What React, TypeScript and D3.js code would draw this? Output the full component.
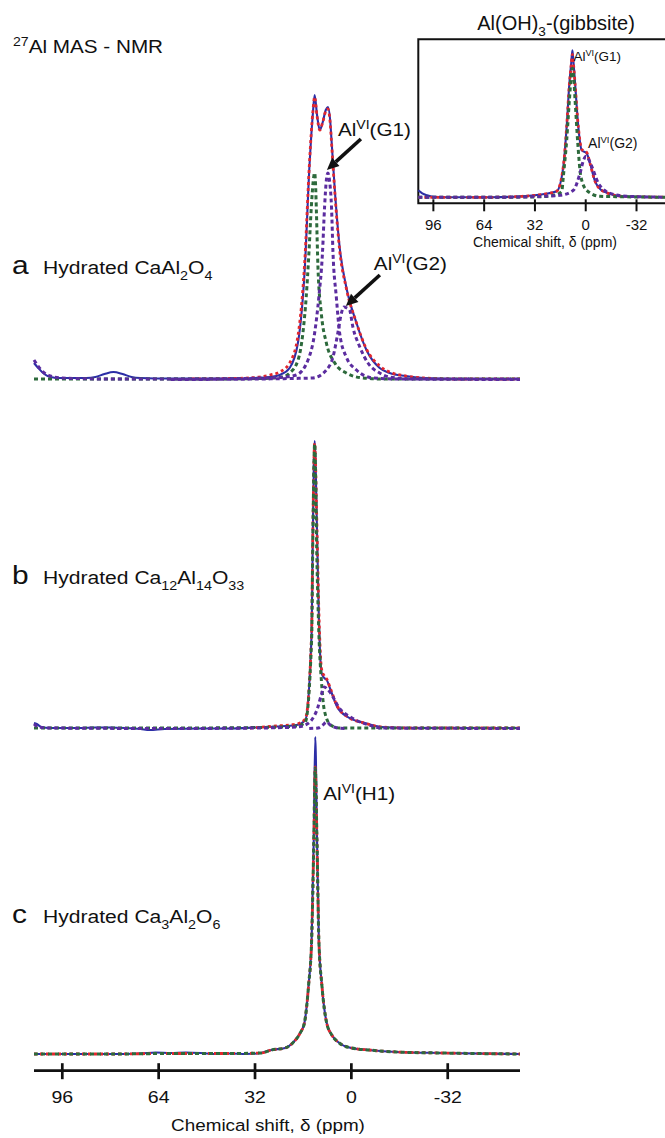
import React from 'react';
import * as d3 from 'd3';

type P = [number, number];

// ---------- data (ppm, intensity a.u.) ----------
const xTickValues: number[] = [96, 64, 32, 0, -32];
const axisTitle = 'Chemical shift, δ (ppm)';

// Panel a : Hydrated CaAl2O4
const aExperimental: P[] = [
  [105.4, 17], [104, 12], [102, 6], [100, 3], [97, 2], [92, 2], [88, 2], [85, 3], [82, 6], [79, 8], [76, 6],
  [73, 3], [70, 2], [60, 1.5], [50, 1.5], [40, 1.5], [32, 2], [27, 3], [23.8, 5], [20.5, 12], [17.7, 38],
  [15.5, 110], [13.9, 215], [12.8, 266], [12.2, 285], [11.4, 265], [10.5, 250], [9.5, 258], [8.5, 270],
  [7.8, 273], [7.0, 258], [6.6, 240], [5.5, 190], [3.9, 133], [1.7, 93], [-1.7, 57], [-5, 30], [-9.4, 12],
  [-12.7, 7], [-18, 4], [-24, 2], [-35, 1], [-45, 1], [-56, 1],
];
const aFit: P[] = [
  [53, 1], [40, 1.5], [32, 2.5], [27, 5], [23.8, 8], [20.5, 17], [17.7, 45], [15.5, 118], [13.9, 218],
  [12.8, 268], [12.2, 283], [11.4, 264], [10.5, 250], [9.5, 258], [8.5, 269], [7.8, 271], [7.0, 256],
  [6.6, 238], [5.5, 188], [3.9, 130], [1.7, 92], [-1.7, 57], [-5, 31], [-9.4, 14], [-12.7, 8], [-18, 4],
  [-24, 2], [-35, 1], [-56, 1],
];
const aGreen: P[] = [
  [105.4, 1], [80, 1], [50, 1], [30, 1.5], [23, 3], [20.5, 7], [17.7, 20], [16.1, 47], [15.0, 83],
  [14.1, 127], [13.3, 173], [12.7, 198], [12.2, 207], [11.9, 196], [11.6, 167], [11.1, 113], [10.0, 67],
  [8.3, 37], [5.5, 17], [1.7, 7], [-3.9, 2], [-10, 1], [-56, 1],
];
const aG1: P[] = [
  [105.4, 20], [103, 10], [100, 4], [96, 2], [80, 1], [50, 1], [30, 2], [22, 3], [18.3, 5], [14.4, 20],
  [12.2, 47], [10.8, 83], [9.6, 127], [8.9, 173], [8.3, 200], [7.8, 207], [7.2, 198], [6.6, 173],
  [6.1, 127], [5.0, 83], [3.9, 47], [1.7, 23], [-1.7, 10], [-7.2, 2], [-15, 1], [-56, 1],
];
const aG2: P[] = [
  [60, 0.5], [30, 1], [20, 1.5], [12.8, 2], [8.3, 10], [6.1, 23], [4.5, 47], [3.3, 67], [2.5, 73],
  [1.5, 72], [0.6, 70], [-0.5, 53], [-2.8, 33], [-5.5, 17], [-9.4, 7], [-12.7, 3], [-20, 1], [-56, 0.5],
];

// Panel b : Hydrated Ca12Al14O33
const bExperimental: P[] = [
  [105.4, 6], [104.5, 5], [103, 2], [100, 1], [90, 1], [85, 1.5], [80, 1.5], [75, 1], [70, 0], [67, -1],
  [62, 0], [50, 0.5], [40, 0.5], [32, 1.5], [25, 2.5], [18.2, 4], [15.3, 9], [13.2, 96], [12.8, 196],
  [12.2, 288], [11.4, 196], [10.8, 112], [9.9, 56], [9.0, 51], [8.2, 49], [6.9, 39], [4.7, 22], [1.2, 12],
  [-4.4, 6], [-10, 2], [-20, 1], [-56, 1],
];
const bFit: P[] = [
  [33.7, 1], [25, 3], [18.2, 5], [15.3, 10], [13.2, 96], [12.8, 196], [12.2, 286], [11.4, 198], [10.8, 118],
  [9.9, 60], [9.0, 53], [8.2, 50], [6.9, 40], [4.7, 23], [1.2, 12], [-4.4, 6], [-10, 2], [-20, 1], [-56, 1],
];
const bGreen: P[] = [
  [105.4, 1], [60, 1], [30, 1.5], [18, 3], [15.3, 7], [13.2, 90], [12.8, 190], [12.2, 285], [11.4, 162],
  [10.8, 96], [9.9, 46], [9.0, 19], [6.9, 4], [4.0, 1], [-56, 1],
];
const bP1: P[] = [
  [105.4, 5], [104, 2], [100, 1], [60, 0.5], [30, 1], [18, 2], [15.3, 4], [13.2, 9], [11.1, 22], [10, 34],
  [9.0, 42], [8.0, 40], [6.9, 36], [4.0, 21], [-0.2, 11], [-5.8, 4], [-10, 1], [-56, 0.5],
];
const bP2: P[] = [
  [14, 0.5], [11, 1], [9.5, 4], [8.2, 7], [7, 4], [4.5, 1], [2, 0.5],
];

// Panel c : Hydrated Ca3Al2O6
const cExperimental: P[] = [
  [105.4, 1], [95, 1], [80, 1], [70, 1.5], [65, 2.5], [60, 2], [55, 2.5], [50, 2], [45, 1], [40, 1.5],
  [35, 1], [30, 2], [26.6, 5], [22, 7], [19.5, 12], [17, 22], [15.6, 32], [14.2, 70], [13.2, 115],
  [12.5, 215], [12.0, 318], [11.4, 215], [10.8, 115], [9.8, 70], [8.2, 32], [6.5, 20], [4.0, 12], [0, 7],
  [-5.8, 5], [-15, 3], [-30, 2], [-56, 1],
];
const cFit: P[] = [
  [105.4, 1], [80, 1], [60, 1.5], [40, 1.5], [30, 2], [26.6, 5], [22, 7], [19.5, 12], [17, 22], [15.6, 32],
  [14.2, 70], [13.2, 115], [12.5, 210], [12.0, 288], [11.4, 210], [10.8, 115], [9.8, 70], [8.2, 32],
  [6.5, 20], [4.0, 12], [0, 7], [-5.8, 5], [-15, 3], [-30, 2], [-56, 1],
];
const cGreen: P[] = [
  [105.4, 1], [80, 1], [60, 1.5], [40, 1.5], [30, 2], [26.6, 5], [22, 7], [19.5, 12], [17, 22], [15.6, 32],
  [14.2, 70], [13.2, 115], [12.5, 210], [12.0, 287], [11.4, 210], [10.8, 115], [9.8, 70], [8.2, 32],
  [6.5, 20], [4.0, 12], [0, 7], [-5.8, 5], [-15, 3], [-30, 2], [-56, 1],
];

// Inset : Al(OH)3 gibbsite
const iExperimental: P[] = [
  [105.5, 8], [103, 5], [100, 3], [96, 1.5], [80, 1], [60, 1], [40, 2], [27, 4], [18.3, 7], [14.1, 32],
  [12.0, 72], [10.3, 115], [9.1, 136], [8.4, 148], [7.7, 136], [6.7, 115], [4.7, 72], [2.5, 48],
  [-0.6, 45], [-2.7, 35], [-5.9, 17], [-11.1, 7], [-23.7, 2], [-56, 1],
];
const iFit: P[] = [
  [105.5, 1], [80, 1], [60, 1], [40, 2], [27, 4], [18.3, 7], [14.1, 32], [12.0, 72], [10.3, 114],
  [9.1, 134], [8.4, 144], [7.7, 134], [6.7, 114], [4.7, 72], [2.5, 49], [-0.6, 46], [-2.7, 35],
  [-5.9, 17], [-11.1, 7], [-23.7, 2], [-56, 1],
];
const iG1: P[] = [
  [105.5, 1], [60, 1], [30, 1.5], [20, 3], [15.1, 7], [14.1, 22], [12.0, 58], [10.3, 98], [9.2, 121],
  [8.4, 130], [7.6, 121], [6.7, 98], [5.0, 55], [3.1, 22], [-0.6, 8], [-9, 2], [-56, 1],
];
const iG2: P[] = [
  [105.5, 1], [60, 1], [37, 1.5], [16.2, 3], [7.8, 8], [3.6, 25], [1.2, 39], [-0.2, 42], [-1.8, 39],
  [-3.8, 32], [-8.0, 15], [-15.3, 5], [-25.8, 2], [-56, 1],
];

// ---------- layout ----------
const W = 665;
const H = 1138;
const FONT = "'Liberation Sans', Arial, Helvetica, sans-serif";
const SX = 1.15; // horizontal stretch of the figure's lettering

const xMain = d3.scaleLinear().domain([105.4, -56]).range([34, 520]);
const xInset = d3.scaleLinear().domain([105.5, -56]).range([418.3, 674.6]);
const yPanel = (base: number) => d3.scaleLinear().domain([0, 300]).range([base, base - 300]);

const yA = yPanel(380);
const yB = yPanel(729);
const yC = yPanel(1055);
const yI = yPanel(198.3);

const COL = {
  blue: '#2c2ea6',
  red: '#e2272d',
  green: '#2d6a3c',
  purple: '#5b2c9f',
};

type Style = { stroke: string; width: number; dash?: string };
const EXP: Style = { stroke: COL.blue, width: 2.1 };
const FIT: Style = { stroke: COL.red, width: 2.8, dash: '3,3' };
const GRN: Style = { stroke: COL.green, width: 3, dash: '4,3' };
const PUR: Style = { stroke: COL.purple, width: 3, dash: '4,3' };

function Curve({ data, x, y, s }: { data: P[]; x: any; y: any; s: Style }) {
  const gen = d3.line<P>().x((d) => x(d[0])).y((d) => y(d[1])).curve(d3.curveMonotoneX);
  return (
    <path d={gen(data) || ''} fill="none" stroke={s.stroke} strokeWidth={s.width}
      strokeDasharray={s.dash} strokeLinejoin="round" />
  );
}

type Part = [string, ('n' | 'sub' | 'sup')?];
function Rich({ x, y, size, parts, anchor, sx = SX }: {
  x: number; y: number; size: number; parts: Part[]; anchor?: string; sx?: number;
}) {
  let cur = 0;
  const small = size * 0.68;
  return (
    <text x={0} y={0} transform={`translate(${x},${y}) scale(${sx},1)`} fontSize={size}
      fontFamily={FONT} textAnchor={anchor || 'start'} fill="#111">
      {parts.map(([t, k], i) => {
        const target = k === 'sub' ? size * 0.3 : k === 'sup' ? -size * 0.38 : 0;
        const dy = target - cur;
        cur = target;
        return (
          <tspan key={i} dy={dy} fontSize={k ? small : size}>{t}</tspan>
        );
      })}
    </text>
  );
}

function Arrow({ tx, ty, dx, dy }: { tx: number; ty: number; dx: number; dy: number }) {
  const len = Math.hypot(dx, dy);
  const ux = dx / len;
  const uy = dy / len;
  const hl = 12;
  const hw = 5.5;
  const bx = tx + ux * hl;
  const by = ty + uy * hl;
  const head = `M${tx},${ty} L${bx - uy * hw},${by + ux * hw} L${bx + uy * hw},${by - ux * hw} Z`;
  return (
    <g>
      <line x1={bx} y1={by} x2={tx + dx} y2={ty + dy} stroke="#111" strokeWidth={3.6} />
      <path d={head} fill="#111" />
    </g>
  );
}

export default function App() {
  const axisY = 1070.7;
  const insetAxisY = 203.3;
  return (
    <svg width={W} height={H} style={{ position: 'absolute', left: 0, top: 0, background: '#fff' }}>
      <rect x={0} y={0} width={W} height={H} fill="#fff" />

      {/* title */}
      <Rich x={13} y={53} size={18} parts={[['27', 'sup'], ['Al MAS - NMR']]} />

      {/* inset */}
      <g>
        <path d={`M${xInset.range()[1]},39.3 H418.3 V${insetAxisY} H${xInset.range()[1]}`} fill="none" stroke="#111" strokeWidth={2} />
        {xTickValues.map((v) => (
          <g key={v}>
            <line x1={xInset(v)} x2={xInset(v)} y1={insetAxisY - 4} y2={insetAxisY + 8} stroke="#111" strokeWidth={2} />
            <text x={xInset(v)} y={230} fontSize={15} fontFamily={FONT} textAnchor="middle" fill="#111">{v}</text>
          </g>
        ))}
        <text x={545} y={247} fontSize={14} fontFamily={FONT} textAnchor="middle" fill="#111">{axisTitle}</text>
        <Rich x={556} y={30} size={20} sx={1} anchor="middle" parts={[['Al(OH)'], ['3', 'sub'], ['-(gibbsite)']]} />
        <Curve data={iExperimental} x={xInset} y={yI} s={EXP} />
        <Curve data={iFit} x={xInset} y={yI} s={FIT} />
        <Curve data={iG1} x={xInset} y={yI} s={GRN} />
        <Curve data={iG2} x={xInset} y={yI} s={PUR} />
        <Rich x={xInset(8.4) + 1} y={yI(148) + 11} size={13.5} sx={1} parts={[['Al'], ['VI', 'sup'], ['(G1)']]} />
        <Rich x={xInset(-0.2) + 2} y={yI(42) - 8} size={14} sx={1} parts={[['Al'], ['VI', 'sup'], ['(G2)']]} />
      </g>

      {/* panel a */}
      <g>
        <Rich x={12} y={274} size={26} parts={[['a']]} />
        <Rich x={43} y={274} size={18.5} sx={1.14} parts={[['Hydrated CaAl'], ['2', 'sub'], ['O'], ['4', 'sub']]} />
        <Curve data={aExperimental} x={xMain} y={yA} s={EXP} />
        <Curve data={aFit} x={xMain} y={yA} s={FIT} />
        <Curve data={aGreen} x={xMain} y={yA} s={GRN} />
        <Curve data={aG1} x={xMain} y={yA} s={PUR} />
        <Curve data={aG2} x={xMain} y={yA} s={PUR} />
        <Arrow tx={xMain(7.8) - 1} ty={yA(207) - 3} dx={34} dy={-31} />
        <Arrow tx={xMain(2.5) + 2} ty={yA(73) - 1} dx={34} dy={-31} />
        <Rich x={xMain(7.8) + 10} y={yA(207) - 37} size={18} parts={[['Al'], ['VI', 'sup'], ['(G1)']]} />
        <Rich x={xMain(2.5) + 30} y={yA(73) - 37} size={18} parts={[['Al'], ['VI', 'sup'], ['(G2)']]} />
      </g>

      {/* panel b */}
      <g>
        <Rich x={12} y={584} size={26} parts={[['b']]} />
        <Rich x={43} y={584} size={18.5} sx={1.14} parts={[['Hydrated Ca'], ['12', 'sub'], ['Al'], ['14', 'sub'], ['O'], ['33', 'sub']]} />
        <Curve data={bExperimental} x={xMain} y={yB} s={EXP} />
        <Curve data={bFit} x={xMain} y={yB} s={FIT} />
        <Curve data={bGreen} x={xMain} y={yB} s={GRN} />
        <Curve data={bP1} x={xMain} y={yB} s={PUR} />
        <Curve data={bP2} x={xMain} y={yB} s={PUR} />
      </g>

      {/* panel c */}
      <g>
        <Rich x={12} y={923} size={26} parts={[['c']]} />
        <Rich x={43} y={923} size={18.5} sx={1.14} parts={[['Hydrated Ca'], ['3', 'sub'], ['Al'], ['2', 'sub'], ['O'], ['6', 'sub']]} />
        <Curve data={cExperimental} x={xMain} y={yC} s={EXP} />
        <Curve data={cFit} x={xMain} y={yC} s={FIT} />
        <Curve data={cGreen} x={xMain} y={yC} s={GRN} />
        <Rich x={xMain(12.0) + 8} y={800} size={18} parts={[['Al'], ['VI', 'sup'], ['(H1)']]} />
      </g>

      {/* main axis */}
      <g>
        <line x1={xMain.range()[0]} x2={xMain.range()[1]} y1={axisY} y2={axisY} stroke="#111" strokeWidth={2.7} />
        {xTickValues.map((v) => (
          <g key={v}>
            <line x1={xMain(v)} x2={xMain(v)} y1={axisY - 7.5} y2={axisY + 8.5} stroke="#111" strokeWidth={2.7} />
            <Rich x={xMain(v)} y={1103} size={17} anchor="middle" parts={[[String(v)]]} />
          </g>
        ))}
        <Rich x={268} y={1131} size={17} sx={1.11} anchor="middle" parts={[[axisTitle]]} />
      </g>
    </svg>
  );
}
